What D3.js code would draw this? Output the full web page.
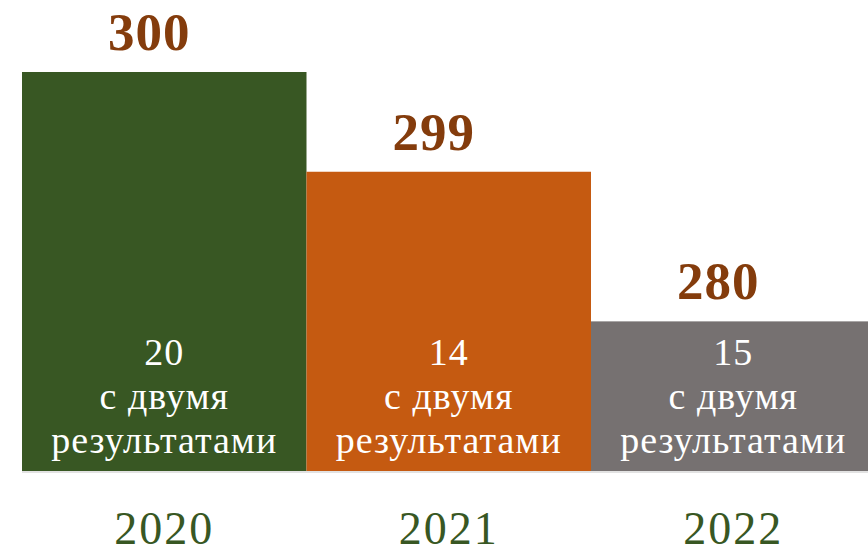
<!DOCTYPE html>
<html>
<head>
<meta charset="utf-8">
<script src="https://cdn.jsdelivr.net/npm/d3@7"></script>
<style>
  body { margin: 0; background: #fff; }
  svg { display: block; }
  text { font-family: "Liberation Serif", "DejaVu Serif", serif; }
</style>
</head>
<body>
<div id="main"></div>
<script>
var years = ["2020", "2021", "2022"];
var totals = [300, 299, 280];
var twoResults = [20, 14, 15];
var subLabel = ["с двумя", "результатами"];
var barColors = ["#385723", "#C55A11", "#767171"];

var width = 868, height = 554;
var margin = {top: 72, left: 22, bottom: 83};
var barStep = 284.5;
var plotBottom = height - margin.bottom;
var plotH = plotBottom - margin.top;

var svg = d3.select("#main").append("svg")
    .attr("width", width)
    .attr("height", height);

var x = d3.scaleBand()
    .domain(years)
    .range([margin.left, margin.left + barStep * years.length])
    .padding(0);

// the original axis is broken (not proportional), so use a piecewise scale
var y = d3.scaleLinear()
    .domain([261, 280, 299, 300])
    .range([plotBottom, plotBottom - 0.375 * plotH, plotBottom - 0.75 * plotH, margin.top]);

var data = years.map(function(d, i) {
  return {year: d, total: totals[i], two: twoResults[i], color: barColors[i]};
});

var cx = d => x(d.year) + x.bandwidth() / 2;

svg.append("line")
    .attr("x1", margin.left)
    .attr("x2", width)
    .attr("y1", plotBottom + 1)
    .attr("y2", plotBottom + 1)
    .attr("stroke", "#D9D9D9")
    .attr("stroke-width", 1.5);

svg.selectAll(".bar").data(data)
  .enter().append("rect")
    .attr("class", "bar")
    .attr("x", d => x(d.year))
    .attr("y", d => y(d.total))
    .attr("width", x.bandwidth())
    .attr("height", d => plotBottom - y(d.total))
    .attr("fill", d => d.color);

svg.selectAll(".total").data(data)
  .enter().append("text")
    .attr("class", "total")
    .attr("x", d => cx(d) - 15)
    .attr("y", d => y(d.total) - 22)
    .attr("text-anchor", "middle")
    .attr("font-size", 53)
    .attr("font-weight", "bold")
    .attr("letter-spacing", 1)
    .attr("fill", "#843C0C")
    .text(d => d.total);

var inner = svg.selectAll(".inner").data(data)
  .enter().append("text")
    .attr("class", "inner")
    .attr("x", cx)
    .attr("y", plotBottom - 106)
    .attr("text-anchor", "middle")
    .attr("font-size", 38)
    .attr("letter-spacing", 1)
    .attr("fill", "#fff");

inner.append("tspan").text(d => d.two);
subLabel.forEach(function(s) {
  inner.append("tspan")
    .attr("x", cx)
    .attr("dy", 44)
    .text(s);
});

svg.selectAll(".year").data(data)
  .enter().append("text")
    .attr("class", "year")
    .attr("x", cx)
    .attr("y", 544)
    .attr("text-anchor", "middle")
    .attr("font-size", 46)
    .attr("letter-spacing", 2)
    .attr("fill", "#385723")
    .text(d => d.year);
</script>
</body>
</html>
